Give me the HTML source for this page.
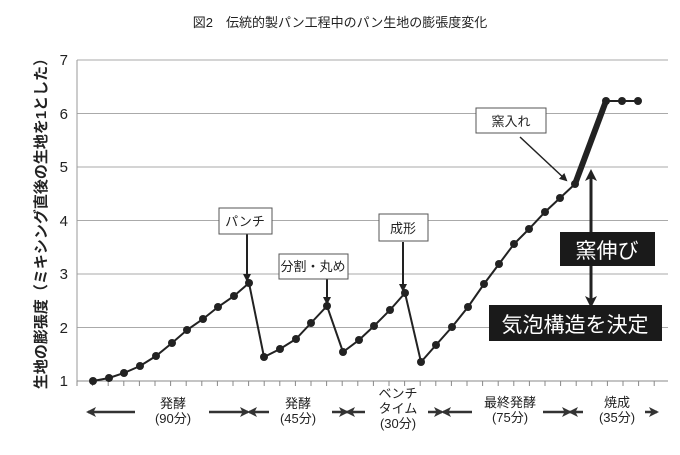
<!DOCTYPE html>
<html><head><meta charset="utf-8"><style>
body{margin:0;background:#fff}
svg text{font-family:"Liberation Sans","Noto Sans CJK JP",sans-serif;fill:#222}
</style></head><body>
<svg width="680" height="450" viewBox="0 0 680 450" xmlns="http://www.w3.org/2000/svg">
<rect width="680" height="450" fill="#fff"/>
<text x="340" y="27" font-size="13" text-anchor="middle">図2　伝統的製パン工程中のパン生地の膨張度変化</text>
<g stroke="#aaa" stroke-width="1">
<line x1="77" y1="60" x2="668" y2="60"/><line x1="77" y1="113.5" x2="668" y2="113.5"/>
<line x1="77" y1="167" x2="668" y2="167"/><line x1="77" y1="220.5" x2="668" y2="220.5"/>
<line x1="77" y1="274" x2="668" y2="274"/><line x1="77" y1="327.5" x2="668" y2="327.5"/>
</g>
<line x1="77" y1="60" x2="77" y2="381" stroke="#999"/>
<line x1="77" y1="381" x2="668" y2="381" stroke="#888"/>
<g stroke="#888" id="ticks"></g>
<g font-size="15" text-anchor="end">
<text x="68" y="386">1</text><text x="68" y="333">2</text><text x="68" y="279">3</text>
<text x="68" y="226">4</text><text x="68" y="172">5</text><text x="68" y="119">6</text><text x="68" y="65">7</text>
</g>
<text transform="translate(46,220) rotate(-90)" font-size="15" font-weight="bold" text-anchor="middle">生地の膨張度（ミキシング直後の生地を1とした）</text>
<polyline fill="none" stroke="#222" stroke-width="2" points="93,381 109,378 124,373 140,366 156,356 172,343 187,330 203,319 218,307 234,296 249,283 264,357 280,349 296,339 311,323 327,306 343,352 359,340 374,326 390,310 405,293 421,362 436,345 452,327 468,307 484,284 499,264 514,244 529,229 545,212 560,198 575,184"/>
<line x1="575" y1="184" x2="606" y2="101" stroke="#222" stroke-width="6"/>
<polyline fill="none" stroke="#222" stroke-width="2" points="606,101 622,101 638,101"/>
<g fill="#222">
<circle cx="93" cy="381" r="4"/><circle cx="109" cy="378" r="4"/><circle cx="124" cy="373" r="4"/><circle cx="140" cy="366" r="4"/><circle cx="156" cy="356" r="4"/><circle cx="172" cy="343" r="4"/><circle cx="187" cy="330" r="4"/><circle cx="203" cy="319" r="4"/><circle cx="218" cy="307" r="4"/><circle cx="234" cy="296" r="4"/><circle cx="249" cy="283" r="4"/><circle cx="264" cy="357" r="4"/><circle cx="280" cy="349" r="4"/><circle cx="296" cy="339" r="4"/><circle cx="311" cy="323" r="4"/><circle cx="327" cy="306" r="4"/><circle cx="343" cy="352" r="4"/><circle cx="359" cy="340" r="4"/><circle cx="374" cy="326" r="4"/><circle cx="390" cy="310" r="4"/><circle cx="405" cy="293" r="4"/><circle cx="421" cy="362" r="4"/><circle cx="436" cy="345" r="4"/><circle cx="452" cy="327" r="4"/><circle cx="468" cy="307" r="4"/><circle cx="484" cy="284" r="4"/><circle cx="499" cy="264" r="4"/><circle cx="514" cy="244" r="4"/><circle cx="529" cy="229" r="4"/><circle cx="545" cy="212" r="4"/><circle cx="560" cy="198" r="4"/><circle cx="575" cy="184" r="4"/><circle cx="606" cy="101" r="4"/><circle cx="622" cy="101" r="4"/><circle cx="638" cy="101" r="4"/>
</g>
<defs><marker id="ah" markerWidth="8" markerHeight="8" refX="6" refY="4" orient="auto" markerUnits="userSpaceOnUse"><path d="M0,0 L8,4 L0,8 z" fill="#222"/></marker>
<marker id="ab" markerWidth="12" markerHeight="12" refX="9" refY="6" orient="auto-start-reverse" markerUnits="userSpaceOnUse"><path d="M0,0 L12,6 L0,12 L3,6 z" fill="#222"/></marker>
<marker id="as" markerWidth="10" markerHeight="10" refX="8" refY="5" orient="auto-start-reverse" markerUnits="userSpaceOnUse"><path d="M0,0 L10,5 L0,10 L2.5,5 z" fill="#333"/></marker></defs>
<g stroke="#222" stroke-width="2">
<line x1="247" y1="234" x2="247" y2="280" marker-end="url(#ah)"/>
<line x1="327" y1="279" x2="327" y2="303" marker-end="url(#ah)"/>
<line x1="403" y1="242" x2="403" y2="290" marker-end="url(#ah)"/>
<line x1="520" y1="137" x2="566" y2="180" stroke-width="1.5" marker-end="url(#ah)"/>
<line x1="591" y1="232" x2="591" y2="172" stroke-width="3" marker-end="url(#ab)"/>
<line x1="591" y1="266" x2="591" y2="305" stroke-width="3" marker-end="url(#ab)"/>
</g>
<g fill="#fff" stroke="#555">
<rect x="219" y="208" width="53" height="26"/><rect x="279" y="254" width="69" height="25"/>
<rect x="379" y="214" width="49" height="27"/><rect x="476" y="108" width="70" height="25"/>
</g>
<g font-size="13" text-anchor="middle">
<text x="245" y="226">パンチ</text><text x="313" y="271">分割・丸め</text>
<text x="403" y="233">成形</text><text x="511" y="126">窯入れ</text>
</g>
<rect x="560" y="232" width="95" height="34" fill="#1a1a1a"/>
<rect x="489" y="305" width="173" height="36" fill="#1a1a1a"/>
<text x="607" y="258" font-size="21" text-anchor="middle" style="fill:#fff">窯伸び</text>
<text x="575" y="332" font-size="21" text-anchor="middle" style="fill:#fff">気泡構造を決定</text>
<g stroke="#333" stroke-width="2.5">
<line x1="88" y1="412" x2="135" y2="412" marker-start="url(#as)"/>
<line x1="209" y1="412" x2="248" y2="412" marker-end="url(#as)"/>
<line x1="249" y1="412" x2="269" y2="412" marker-start="url(#as)"/>
<line x1="332" y1="412" x2="347" y2="412" marker-end="url(#as)"/>
<line x1="347" y1="412" x2="365" y2="412" marker-start="url(#as)"/>
<line x1="428" y1="412" x2="442" y2="412" marker-end="url(#as)"/>
<line x1="443" y1="412" x2="472" y2="412" marker-start="url(#as)"/>
<line x1="543" y1="412" x2="570" y2="412" marker-end="url(#as)"/>
<line x1="570" y1="412" x2="583" y2="412" marker-start="url(#as)"/>
<line x1="645" y1="412" x2="657" y2="412" marker-end="url(#as)"/>
</g>
<g font-size="13" text-anchor="middle">
<text x="173" y="408">発酵</text><text x="173" y="423">(90分)</text>
<text x="298" y="408">発酵</text><text x="298" y="423">(45分)</text>
<text x="398" y="398">ベンチ</text><text x="398" y="413">タイム</text><text x="398" y="428">(30分)</text>
<text x="510" y="407">最終発酵</text><text x="510" y="422">(75分)</text>
<text x="617" y="407">焼成</text><text x="617" y="422">(35分)</text>
</g>
</svg>
<script>
var g=document.getElementById('ticks'),s='';
for(var x=77;x<=668;x+=15.6){s+='<line x1="'+x+'" y1="381" x2="'+x+'" y2="386"/>';}
g.innerHTML=s;
</script>
</body></html>
